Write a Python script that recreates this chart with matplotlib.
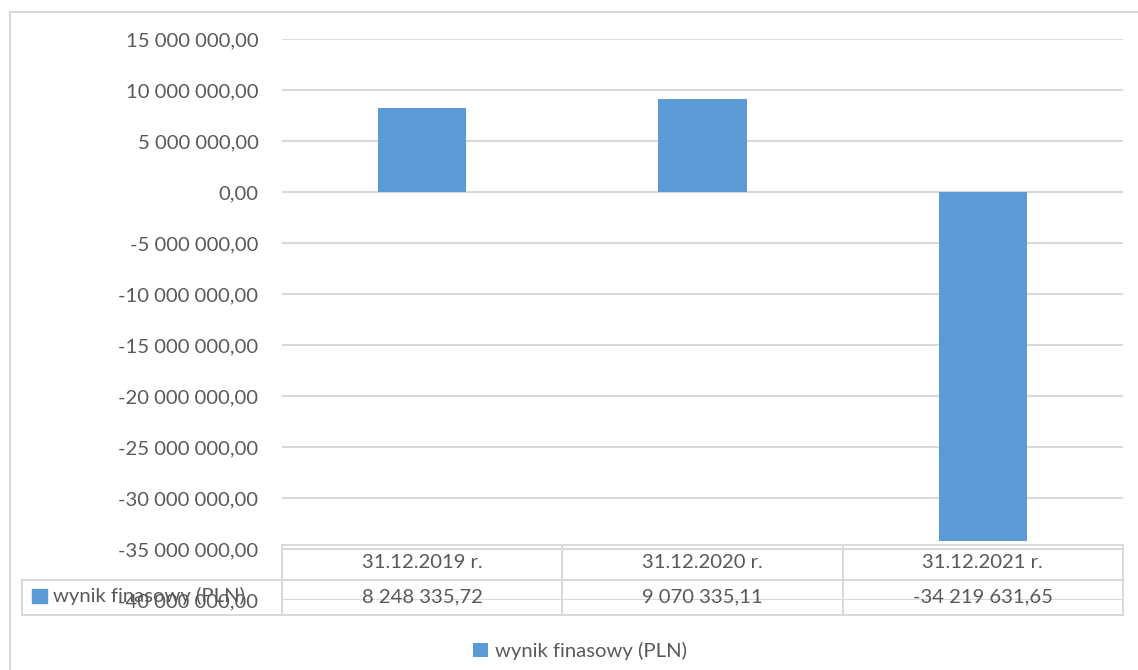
import matplotlib
matplotlib.use("Agg")
import matplotlib.pyplot as plt
from matplotlib.lines import Line2D
from matplotlib.patches import Rectangle
from matplotlib.ticker import FuncFormatter, MultipleLocator
import matplotlib.transforms as mtransforms

categories = ["31.12.2019 r.", "31.12.2020 r.", "31.12.2021 r."]
values = [8248335.72, 9070335.11, -34219631.65]
series_name = "wynik finasowy (PLN)"

W, H = 1138, 670
BAR = "#5B9BD5"
GRID = "#D9D9D9"
TXT = "#595959"
FS = 14.6

plt.rcParams["font.family"] = ["Lato", "DejaVu Sans"]


def pl(v):
    return f"{v:,.2f}".replace(",", " ").replace(".", ",")


def fx(x):
    return x / W


def fy(y):
    return 1 - y / H


fig = plt.figure(figsize=(W / 100, H / 100), dpi=100)
ax = fig.add_axes([fx(282), fy(600), fx(1123 - 282), (600 - 39) / H])

x = list(range(len(categories)))
bars = ax.bar(x, values, width=0.316, color=BAR, zorder=3, label=series_name)
ax.set_xlim(-0.5, len(categories) - 0.5)
ax.set_ylim(-40e6, 15e6)
ax.yaxis.set_major_locator(MultipleLocator(5e6))
ax.yaxis.set_major_formatter(FuncFormatter(lambda v, p: pl(v)))
ax.grid(axis="y", color=GRID, linewidth=1.5, zorder=0)
ax.set_xticks([])
ax.tick_params(axis="y", length=0, pad=17, labelsize=FS, labelcolor=TXT)
for s in ax.spines.values():
    s.set_visible(False)

# outer chart frame
fig.add_artist(Line2D([fx(9.5), fx(9.5)], [fy(12), 0], color=GRID, lw=1.5))
fig.add_artist(Line2D([fx(9.5), 1], [fy(12), fy(12)], color=GRID, lw=1.5))

# data table under the plot
tr = mtransforms.blended_transform_factory(ax.transData, fig.transFigure)
left, right = -0.5, len(categories) - 0.5
kw = dict(color=GRID, lw=1.4, transform=tr, clip_on=False)
for yy in (545, 580, 615):
    ax.add_line(Line2D([left, right], [fy(yy), fy(yy)], **kw))
for xx in [i - 0.5 for i in range(len(categories) + 1)]:
    ax.add_line(Line2D([xx, xx], [fy(545), fy(615)], **kw))
for yy in (580, 615):
    fig.add_artist(Line2D([fx(22), fx(282)], [fy(yy), fy(yy)], color=GRID, lw=1.4))
fig.add_artist(Line2D([fx(22), fx(22)], [fy(580), fy(615)], color=GRID, lw=1.4))

for i, (c, v) in enumerate(zip(categories, values)):
    ax.text(i, fy(562), c, transform=tr, ha="center", va="center", fontsize=FS, color=TXT)
    ax.text(i, fy(597), pl(v), transform=tr, ha="center", va="center", fontsize=FS, color=TXT)

fig.add_artist(Rectangle((fx(32), fy(603)), fx(15), 14 / H, color=BAR))
fig.text(fx(53), fy(596), series_name, ha="left", va="center", fontsize=FS, color=TXT)

fig.legend(handles=[bars], labels=[series_name], loc="center",
           bbox_to_anchor=(fx(580), fy(651)), frameon=False, fontsize=FS,
           labelcolor=TXT, handlelength=0.75, handleheight=0.75, handletextpad=0.35)

fig.savefig("out.png", dpi=100)
